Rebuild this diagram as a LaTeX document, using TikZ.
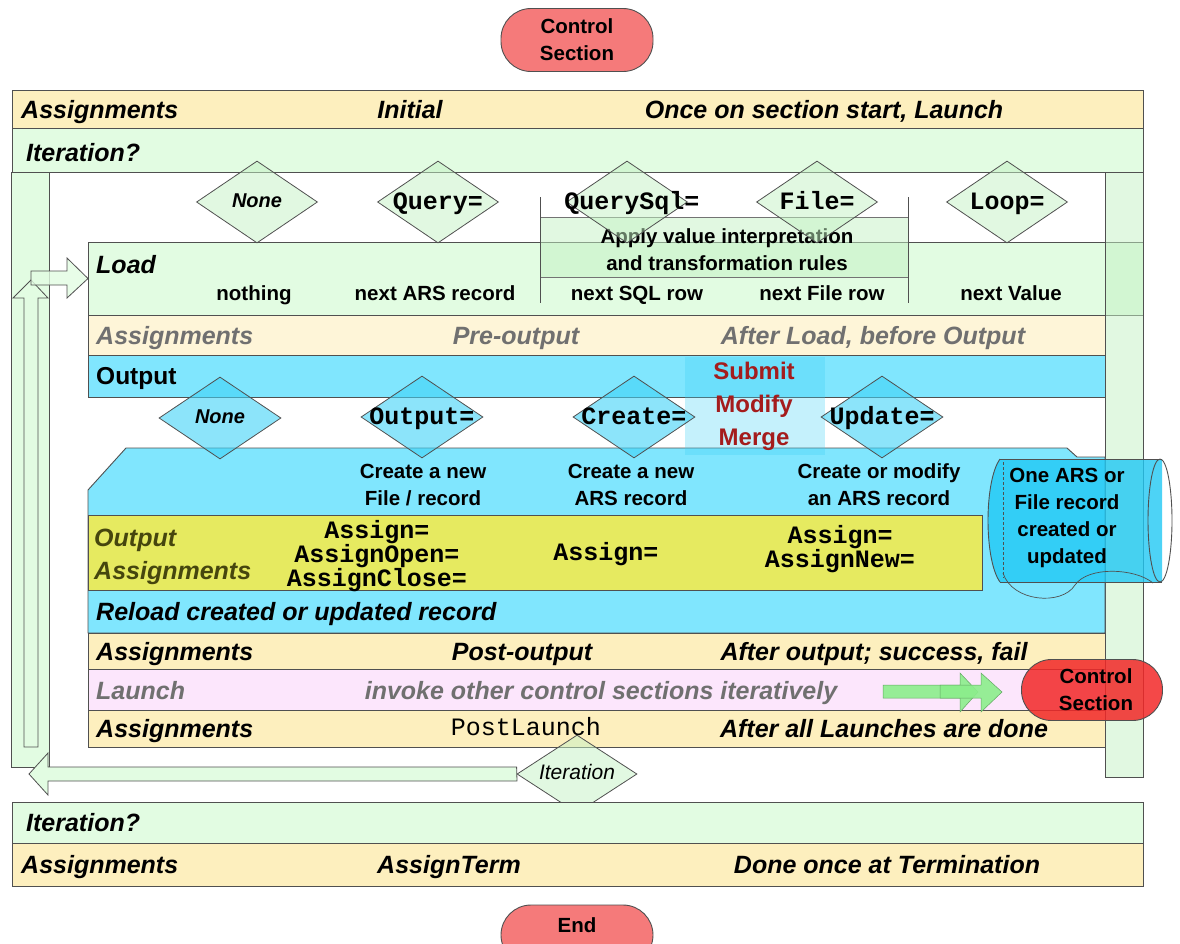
\documentclass[tikz,border=0pt]{standalone}
\usepackage{fontspec}
\setmainfont{Liberation Sans}
\setmonofont{Liberation Mono}
\usetikzlibrary{shapes.geometric}
\definecolor{ylw}{HTML}{FDEFBE}
\definecolor{ylwl}{HTML}{FEF5D8}
\definecolor{grn}{HTML}{E2FCE2}
\definecolor{grnd}{HTML}{C4F2C4}
\definecolor{cyn}{HTML}{80E6FE}
\definecolor{cynd}{HTML}{40D2F6}
\definecolor{oyl}{HTML}{E6EA60}
\definecolor{pnk}{HTML}{FCE6FC}
\definecolor{redl}{HTML}{F57A7A}
\definecolor{redd}{HTML}{F22828}
\definecolor{cylc}{HTML}{20C8F4}
\definecolor{dred}{HTML}{A41C1C}
\definecolor{bgr}{HTML}{505050}
\definecolor{txg}{HTML}{707070}
\definecolor{oliv}{HTML}{46460E}
\definecolor{arrg}{HTML}{8CEE8C}
\begin{document}
\begin{tikzpicture}[x=1pt,y=-1pt,
  bx/.style={draw=bgr, line width=0.9pt, inner sep=0, outer sep=0, anchor=north west, rectangle},
  hd/.style={inner sep=0, text height=18pt, text depth=0pt, font=\fontsize{25}{30}\selectfont\bfseries\itshape},
  hdg/.style={hd, text=txg},
  hdo/.style={hd, text=oliv},
  bt/.style={inner sep=0, text height=14.7pt, text depth=0pt, font=\fontsize{20.5}{27}\selectfont\bfseries, align=center},
  btm/.style={inner sep=0, font=\fontsize{20.5}{27}\selectfont\bfseries, align=center},
  mono/.style={inner sep=0, text height=15pt, text depth=0pt, font=\fontsize{25}{21}\selectfont\ttfamily\bfseries, align=center},
  monom/.style={inner sep=0, font=\fontsize{25}{21}\selectfont\ttfamily\bfseries, align=center},
  dtop/.style={diamond, draw=bgr, line width=0.8pt, fill=grnd, fill opacity=0.5, minimum width=121pt, minimum height=82pt, inner sep=0},
  dout/.style={diamond, draw=bgr, line width=0.8pt, fill=cynd, fill opacity=0.6, minimum width=122pt, minimum height=82pt, inner sep=0},
  blk/.style={draw=bgr, line width=0.8pt, fill=grn},
  pill/.style={draw=bgr, line width=0.9pt, rounded corners=30pt, inner sep=0, rectangle},
]
\useasboundingbox (0,0) rectangle (1180,943);

% top control section
\node[pill, fill=redl, minimum width=152pt, minimum height=63pt] (cstop) at (577,40) {};
\node[btm] (cstopt) at (577,40) {Control\\Section};

% top bands
\node[bx, fill=ylw, minimum width=1131pt, minimum height=38pt] (bandA1) at (12,90) {};
\node[hd, anchor=west] (a1l) at (21,109) {Assignments};
\node[hd] (a1m) at (410,109) {Initial};
\node[hd] (a1r) at (824,109) {Once on section start, Launch};
\node[bx, fill=grn, minimum width=1131pt, minimum height=44pt] (bandI1) at (12,128) {};
\node[hd, anchor=west] (i1l) at (26,152) {Iteration?};

% left frame bar
\node[bx, fill=grn, minimum width=38pt, minimum height=595pt] (lbar) at (11,172) {};

% load box
\node[bx, fill=grn, minimum width=1055pt, minimum height=73pt] (load) at (88,242) {};
\node[hd, anchor=west] (loadt) at (96,264) {Load};
\node[bt] (ld1) at (254,293) {nothing};
\node[bt] (ld2) at (435,293) {next ARS record};
\node[bt] (ld3) at (637,293) {next SQL row};
\node[bt] (ld4) at (822,293) {next File row};
\node[bt] (ld5) at (1011,293) {next Value};

% apply box
\node[bx, draw=bgr!80, fill=grnd, fill opacity=0.5, minimum width=368pt, minimum height=60pt] (apply) at (540,217) {};
\node[btm] (applyt) at (727,249.5) {Apply value interpretation\\and transformation rules};
\coordinate (s1a) at (540,197); \coordinate (s1b) at (540,303);
\coordinate (s2a) at (908,197); \coordinate (s2b) at (908,303);
\draw[bgr, line width=0.8pt] (s1a) -- (s1b);
\draw[bgr, line width=0.8pt] (s2a) -- (s2b);

% top diamonds
\node[dtop] (dn) at (257,202) {};
\node[inner sep=0, text height=14.5pt, text depth=0pt, font=\fontsize{20}{24}\selectfont\bfseries\itshape] (dnt) at (257,200) {None};
\node[dtop] (dq) at (438,202) {};
\node[mono] (dqt) at (dq) {Query=};
\node[dtop] (dqs) at (627,202) {};
\node[mono] (dqst) at (632,202) {QuerySql=};
\node[dtop] (df) at (817,202) {};
\node[mono] (dft) at (df) {File=};
\node[dtop] (dl) at (1007,202) {};
\node[mono] (dlt) at (dl) {Loop=};

% right frame bar
\node[bx, fill=grnd, fill opacity=0.5, minimum width=38pt, minimum height=605pt] (rbar) at (1105,172) {};

% pre-output and output bands
\node[bx, fill=ylwl, minimum width=1017pt, minimum height=40pt] (pre) at (88,315) {};
\node[hdg, anchor=west] (prel) at (96,335) {Assignments};
\node[hdg] (prem) at (516,335) {Pre-output};
\node[hdg] (prer) at (873,335) {After Load, before Output};
\node[bx, fill=cyn, minimum width=1017pt, minimum height=42pt] (outb) at (88,355) {};
\node[inner sep=0, text height=18pt, text depth=0pt, font=\fontsize{24.5}{30}\selectfont\bfseries, anchor=west] (outt) at (96,375) {Output};

% output body
\draw[draw=bgr, line width=0.9pt, fill=cyn] (88,490) -- (126,448) -- (1067,448) -- (1077,457) -- (1105,457) -- (1105,633) -- (88,633) -- cycle;
\node[btm] (b1) at (423,485) {Create a new\\File / record};
\node[btm] (b2) at (631,485) {Create a new\\ARS record};
\node[btm] (b3) at (879,485) {Create or modify\\an ARS record};

% output assignments
\node[bx, fill=oyl, minimum width=894pt, minimum height=75pt] (oa) at (88,515) {};
\node[hdo, anchor=west] (oa1) at (94,537) {Output};
\node[hdo, anchor=west] (oa2) at (94,570) {Assignments};
\node[monom] (m1) at (377,556) {Assign=\\AssignOpen=\\AssignClose=};
\node[mono] (m2) at (606,553) {Assign=};
\node[monom] (m3) at (840,549) {Assign=\\AssignNew=};
\node[hd, anchor=west] (reload) at (96,611) {Reload created or updated record};

% submit modify merge
\node[rectangle, fill=cynd, fill opacity=0.3, minimum width=140pt, minimum height=98pt, anchor=north west, inner sep=0] (smm) at (685,357) {};
\node[inner sep=0, text=dred, font=\fontsize{24}{33}\selectfont\bfseries, align=center] (smmt) at (754,406) {Submit\\Modify\\Merge};

% output diamonds
\node[dout] (on) at (220,418) {};
\node[inner sep=0, text height=14.5pt, text depth=0pt, font=\fontsize{20}{24}\selectfont\bfseries\itshape] (ont) at (220,416) {None};
\node[dout] (oo) at (422,417) {};
\node[mono] (oot) at (oo) {Output=};
\node[dout] (oc) at (634,417) {};
\node[mono] (oct) at (oc) {Create=};
\node[dout] (ou) at (882,417) {};
\node[mono] (out2) at (ou) {Update=};

% post-output, launch, postlaunch
\node[bx, fill=ylw, minimum width=1017pt, minimum height=36pt] (post) at (88,633) {};
\node[hd, anchor=west] (postl) at (96,651) {Assignments};
\node[hd] (postm) at (522,651) {Post-output};
\node[hd] (postr) at (874,651) {After output; success, fail};
\node[bx, fill=pnk, minimum width=1017pt, minimum height=41pt] (lau) at (88,669) {};
\node[hdg, anchor=west] (laul) at (96,690) {Launch};
\node[hdg] (laum) at (601,690) {invoke other control sections iteratively};
\node[bx, fill=ylw, minimum width=1017pt, minimum height=37pt] (pl) at (88,710) {};
\node[hd, anchor=west] (pll) at (96,728) {Assignments};
\node[inner sep=0, text height=15pt, text depth=0pt, font=\fontsize{25}{30}\selectfont\ttfamily] (plm) at (526,728) {PostLaunch};
\node[hd] (plr) at (884,728) {After all Launches are done};

% arrows on the left
\draw[blk] (24,747) -- (24,298) -- (13,298) -- (31,280) -- (48,298) -- (38,298) -- (38,747) -- cycle;
\draw[blk, fill=grn, fill opacity=0.8] (31,271) -- (67,271) -- (67,258) -- (load.west) -- (67,298) -- (67,285) -- (31,285) -- cycle;

% iteration diamond and return arrow
\node[dtop, minimum width=120pt, minimum height=78pt] (iterd) at (577,774) {};
\draw[blk] (iterd.west) ++(0,-7) -- (48,767) -- (48,753) -- (29,774) -- (48,795) -- (48,781) -- (517,781) -- cycle;
\node[inner sep=0, text height=15pt, text depth=0pt, font=\fontsize{21}{24}\selectfont\itshape] (itert) at (577,772) {Iteration};

% bottom bands
\node[bx, fill=grn, minimum width=1131pt, minimum height=41pt] (bandI2) at (12,802) {};
\node[hd, anchor=west] (i2l) at (26,822) {Iteration?};
\node[bx, fill=ylw, minimum width=1131pt, minimum height=43pt] (bandA2) at (12,843) {};
\node[hd, anchor=west] (a2l) at (21,864) {Assignments};
\node[hd] (a2m) at (449,864) {AssignTerm};
\node[hd] (a2r) at (887,864) {Done once at Termination};

% end pill
\node[pill, fill=redl, minimum width=152pt, minimum height=60pt] (endp) at (577,935) {};
\node[bt] (endt) at (577,925) {End};

% cylinder
\fill[cylc, opacity=0.8] (1000,459) -- (1162,459) -- (1162,582) -- (1000,582) .. controls (984,560) and (984,481) .. (1000,459) -- cycle;
\draw[bgr, line width=0.9pt] (1000,459) -- (1162,459);
\draw[bgr, line width=0.9pt] (1000,582) -- (1162,582);
\draw[bgr, line width=0.9pt] (1000,459) .. controls (984,481) and (984,560) .. (1000,582);
\draw[bgr, line width=0.6pt, densely dashed] (1003,462) -- (1003,578);
\draw[bgr, line width=0.9pt] (1160,520.5) ellipse [x radius=12, y radius=61.5];
\draw[bgr, line width=0.7pt] (1003,573) .. controls (1012,602) and (1062,606) .. (1075,585) .. controls (1088,566) and (1135,568) .. (1153,583);
\node[btm] (cylt) at (1067,518) {One ARS or\\File record\\created or\\updated};

% launch arrows and control section
\draw[draw=arrg!70!black, line width=0.5pt, fill=arrg, fill opacity=0.9] (883,685) -- (960,685) -- (960,673) -- (978,692) -- (960,712) -- (960,698) -- (883,698) -- cycle;
\draw[draw=arrg!70!black, line width=0.5pt, fill=arrg, fill opacity=0.9] (940,685) -- (981,685) -- (981,673) -- (1002,692) -- (981,712) -- (981,698) -- (940,698) -- cycle;
\node[pill, fill=redd, fill opacity=0.85, minimum width=141pt, minimum height=61pt] (csb) at (1092,690) {};
\node[btm] (csbt) at (1096,690) {Control\\Section};
\end{tikzpicture}
\end{document}
